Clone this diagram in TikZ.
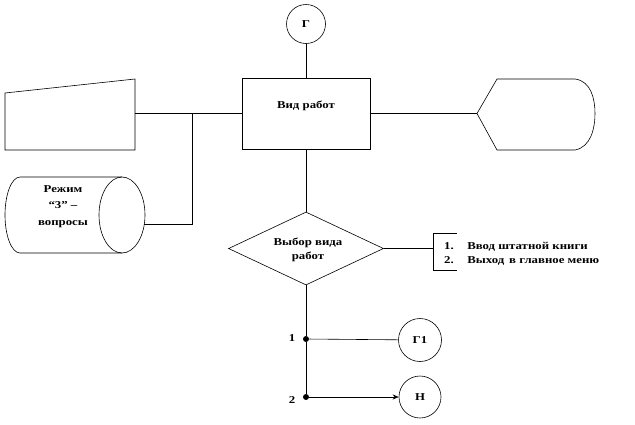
\documentclass[tikz,border=0pt]{standalone}
\usepackage{fontspec}
\setmainfont[FakeStretch=1.22]{Liberation Serif}
\usetikzlibrary{shapes.geometric,arrows.meta}
\begin{document}
\begin{tikzpicture}[x=1pt,y=-1pt,line width=0.6pt,
  lbl/.style={font=\bfseries\fontsize{10.5}{15}\selectfont, align=center, inner sep=0},
  shp/.style={draw=black, line width=0.6pt},
  conn/.style={draw=black, line width=0.6pt},
  jdot/.style={circle, fill=black, inner sep=0, minimum size=6pt},
  term/.style={shp, circle, inner sep=0, font=\bfseries\fontsize{10.5}{11}\selectfont}]
\useasboundingbox (0,0) rectangle (635,424);
% top terminator
\node[term, minimum size=39pt] (g) at (306,24) {Г};
% main process box
\node[shp, minimum width=128pt, minimum height=71pt, inner sep=0] (vid) at (306,113.5) {};
\node[lbl] (vidt) at (306,106) {Вид работ};
% manual input (trapezoid)
\draw[shp] (5,93) -- (135,79) -- (135,150) -- (5,150) -- cycle;
\coordinate (trapR) at (135,113.5);
% display shape
\draw[shp] (477,113.5) -- (497,79) -- (575,79) .. controls (591,81) and (595,99) .. (595,113.5)
  .. controls (595,128) and (591,147) .. (575,150) -- (497,150) -- cycle;
\coordinate (dispL) at (477,113.5);
% cylinder (stored data)
\draw[shp] (122,177) -- (20,177) arc[start angle=270,end angle=90,x radius=15,y radius=38] -- (122,253);
\draw[shp] (122,215) ellipse [x radius=23, y radius=38];
\node[lbl, font=\bfseries\fontsize{10.5}{16.5}\selectfont] (cyl) at (63,206.5) {Режим\\“3” –\\вопросы};
\coordinate (cylR) at (144.4,224);
\coordinate (j) at (192,113.5);
% decision
\node[shp, diamond, minimum width=155pt, minimum height=73pt, inner sep=0] (dia) at (306,248.5) {};
\node[lbl, font=\bfseries\fontsize{10.5}{14}\selectfont] (diat) at (308,250) {Выбор вида\\работ};
% annotation
\coordinate (br) at (433,248.5);
\draw[conn] (457,233) -- (433,233) -- (433,270) -- (457,270);
\node[lbl, anchor=base] (n1) at (449,249) {1.};
\node[lbl, anchor=base] (n2) at (449,263) {2.};
\node[lbl, anchor=base west] (t1) at (467,249) {Ввод штатной книги};
\node[lbl, anchor=base west] (t2) at (467,263) {Выход\, в главное меню};
% branches
\node[jdot] (d1) at (306,339) {};
\node[jdot] (d2) at (306,397) {};
\node[lbl] (l1) at (292,338) {1};
\node[lbl] (l2) at (292,400) {2};
\node[term, minimum size=43pt] (g1) at (420,340) {Г1};
\node[term, minimum size=42pt] (nn) at (420,397) {Н};
% connectors
\draw[conn] (g) -- (vid);
\draw[conn] (trapR) -- (vid.west);
\draw[conn] (vid.east) -- (dispL);
\draw[conn] (j) |- (cylR);
\draw[conn] (vid) -- (dia);
\draw[conn] (dia.east) -- (br);
\draw[conn] (dia.south) -- (d1);
\draw[conn] (d1) -- (d2);
\draw[conn] (d1) -- (g1);
\draw[conn, -{Stealth[length=6pt,width=5pt]}] (d2) -- (nn);
\end{tikzpicture}
\end{document}
